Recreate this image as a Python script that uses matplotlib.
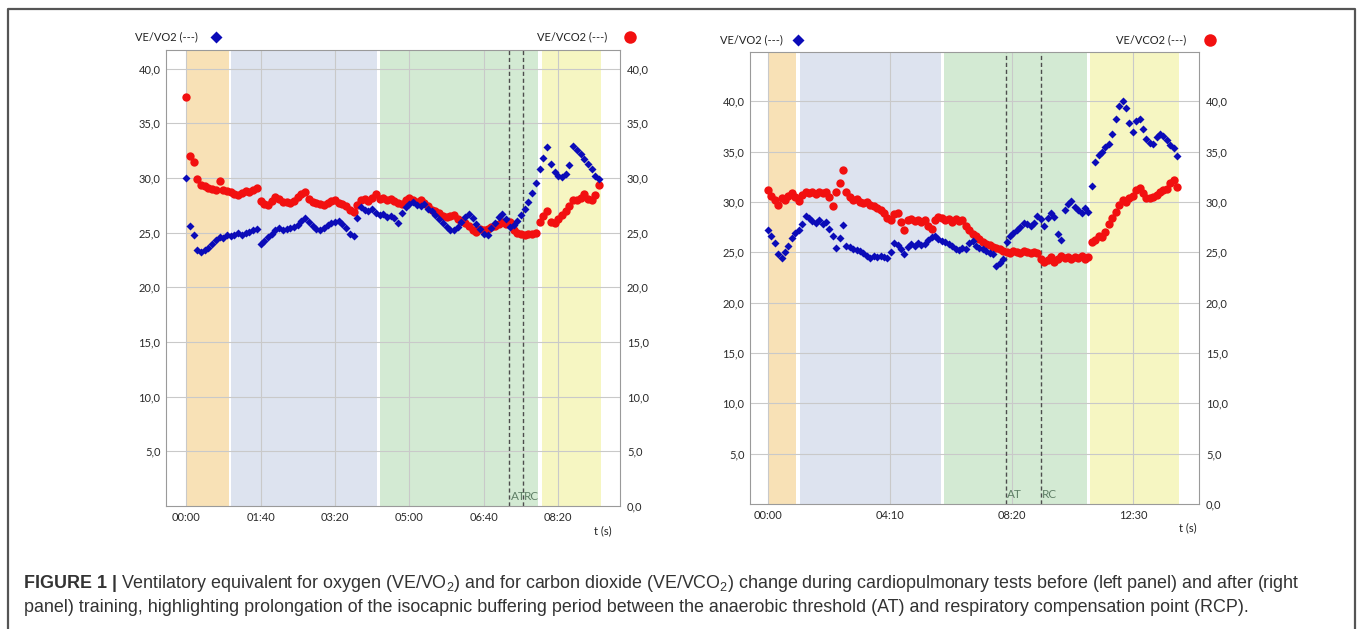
import matplotlib
matplotlib.use("Agg")
import matplotlib.pyplot as plt
import numpy as np
from matplotlib.lines import Line2D

plt.rcParams["font.family"] = ["Lato", "DejaVu Sans"]
plt.rcParams["mathtext.default"] = "regular"

# ---- left panel: test before training, one value every 5 s ----
pre_step = 5
pre_vevo2 = [
    30.0, 25.6, 24.8, 23.4, 23.2, 23.4, 23.6, 24.0, 24.3, 24.6,
    24.5, 24.8, 24.7, 24.8, 25.0, 24.8, 25.0, 25.1, 25.2, 25.3,
    24.0, 24.2, 24.6, 24.9, 25.2, 25.4, 25.2, 25.3, 25.4, 25.5,
    25.7, 26.1, 26.3, 26.0, 25.6, 25.3, 25.2, 25.4, 25.7, 25.9,
    26.0, 26.1, 25.8, 25.4, 24.9, 24.7, 26.3, 27.3, 27.1, 27.0,
    27.2, 26.8, 26.6, 26.7, 26.4, 26.5, 26.3, 25.9, 26.8, 27.3,
    27.6, 27.8, 27.5, 27.4, 27.6, 27.2, 27.0, 26.6, 26.2, 25.9,
    25.5, 25.2, 25.2, 25.5, 26.0, 26.4, 26.7, 26.3, 25.8, 25.3,
    24.9, 24.8, 25.4, 25.9, 26.4, 26.7, 26.2, 25.5, 25.7, 26.1,
    26.6, 27.2, 27.8, 28.6, 29.5, 30.8, 31.8, 32.8, 31.3, 30.5,
    30.2, 30.1, 30.4, 31.2, 32.9, 32.6, 32.2, 31.7, 31.3, 30.8,
    30.2, 29.9,
]
pre_vevco2 = [
    37.4, 32.0, 31.5, 29.9, 29.4, 29.3, 29.1, 29.0, 28.9, 29.7,
    28.9, 28.8, 28.7, 28.5, 28.4, 28.6, 28.8, 28.7, 28.9, 29.1,
    27.9, 27.6, 27.5, 27.9, 28.3, 28.1, 27.8, 27.8, 27.7, 27.9,
    28.3, 28.5, 28.7, 28.1, 27.8, 27.7, 27.6, 27.5, 27.7, 27.9,
    28.0, 27.7, 27.6, 27.4, 27.1, 26.9, 27.5, 28.0, 28.1, 27.9,
    28.2, 28.5, 28.1, 28.2, 28.0, 28.1, 27.9, 27.7, 27.6, 28.0,
    28.2, 28.0, 27.8, 28.0, 27.7, 27.4, 27.1, 27.0, 26.8, 26.5,
    26.4, 26.5, 26.6, 26.2, 26.1, 25.9, 25.6, 25.2, 25.1, 25.3,
    25.2, 25.3, 25.5, 25.6, 25.8, 26.0, 25.8, 26.0, 25.2, 25.0,
    24.9, 24.8, 24.9, 24.9, 25.0, 26.0, 26.5, 27.0, 26.0, 25.9,
    26.2, 26.6, 27.0, 27.4, 28.0, 28.0, 28.2, 28.5, 28.1, 28.0,
    28.4, 29.4,
]
pre_bands = [(0, 57), (61, 256), (260, 473), (478, 558)]
pre_at, pre_rc = 434, 452
pre_ticks = [0, 100, 200, 300, 400, 500]
pre_labels = ["00:00", "01:40", "03:20", "05:00", "06:40", "08:20"]

# ---- right panel: test after training, one value every 7 s ----
post_step = 7
post_vevo2 = [
    27.2, 26.6, 25.9, 24.8, 24.4, 25.0, 25.6, 26.4, 26.9, 27.2,
    27.8, 28.6, 28.4, 28.1, 27.9, 28.2, 27.8, 28.0, 27.3, 26.6,
    25.4, 26.4, 27.7, 25.6, 25.5, 25.3, 25.2, 25.1, 24.9, 24.6,
    24.4, 24.6, 24.5, 24.6, 24.5, 24.4, 25.0, 25.9, 25.7, 25.3,
    24.8, 25.5, 25.8, 25.6, 25.9, 25.7, 25.8, 26.2, 26.5, 26.6,
    26.3, 26.1, 26.0, 25.8, 25.6, 25.3, 25.2, 25.4, 25.3, 25.9,
    26.1, 25.6, 25.4, 25.3, 25.1, 24.9, 24.8, 23.6, 23.9, 24.3,
    26.0, 26.6, 26.9, 27.2, 27.5, 27.9, 27.8, 27.6, 27.9, 28.6,
    28.3, 27.6, 28.4, 28.9, 28.5, 26.8, 26.2, 29.2, 29.8, 30.1,
    29.5, 29.2, 28.9, 29.4, 29.0, 31.6, 34.0, 34.7, 35.0, 35.5,
    35.8, 36.8, 38.2, 39.5, 40.0, 39.3, 37.8, 37.0, 38.0, 38.2,
    37.3, 36.3, 35.9, 35.8, 36.5, 36.8, 36.6, 36.2, 35.7, 35.4,
    34.6,
]
post_vevco2 = [
    31.2, 30.6, 30.2, 29.7, 30.4, 30.2, 30.6, 30.9, 30.5, 30.1,
    30.7, 31.0, 30.9, 31.0, 30.8, 31.0, 30.9, 31.0, 30.5, 29.6,
    31.0, 31.9, 33.2, 31.0, 30.5, 30.2, 30.3, 30.0, 29.9, 30.0,
    29.7, 29.6, 29.4, 29.2, 28.9, 28.4, 28.2, 28.8, 28.9, 28.0,
    27.2, 28.2, 28.3, 28.1, 28.2, 28.0, 28.2, 27.6, 27.3, 28.2,
    28.5, 28.4, 28.2, 28.3, 28.0, 28.3, 28.1, 28.2, 27.6, 27.2,
    26.8, 26.6, 26.3, 26.0, 25.8, 25.7, 25.5, 25.4, 25.3, 25.1,
    25.0, 24.9, 25.1, 25.0, 24.9, 25.1, 25.0, 24.9, 25.0, 24.9,
    24.3, 24.0, 24.2, 24.5, 24.0, 24.3, 24.6, 24.4, 24.5, 24.3,
    24.5, 24.4, 24.6, 24.3, 24.5, 26.0, 26.2, 26.6, 26.5, 27.0,
    27.8, 28.4, 29.0, 29.7, 30.2, 30.0, 30.4, 30.6, 31.2, 31.4,
    30.9, 30.4, 30.4, 30.5, 30.7, 31.0, 31.2, 31.3, 31.9, 32.2,
    31.5,
]
post_bands = [(0, 58), (65, 356), (362, 656), (662, 844)]
post_at, post_rc = 489, 561
post_ticks = [0, 250, 500, 750]
post_labels = ["00:00", "04:10", "08:20", "12:30"]

band_colors = ["#f8e1b6", "#dde3ef", "#d3ead3", "#f6f6c2"]
blue = "#0b0bb8"
red = "#f21010"
W, H = 1357, 629


def fx(px):
    return px / W


def fy(py):
    return 1 - py / H


def draw_panel(rect, step, vo2, vco2, bands, at, rc, ticks, labels, xlim, ylim):
    ax = fig.add_axes(rect)
    t = np.arange(len(vo2)) * step
    for (a, b), c in zip(bands, band_colors):
        ax.axvspan(a, b, color=c, lw=0, zorder=0.5)
    ax.plot(t, vco2, "o", ms=6.0, color=red, mec="none", zorder=3)
    ax.plot(t, vo2, "D", ms=4.5, color=blue, mec="none", zorder=3)
    for x in (at, rc):
        ax.axvline(x, color="#4d4d4d", lw=1, ls=(0, (3, 2)), zorder=2)
    ax.text(at + 2, 0.4, "AT", color="#5f7f66", fontsize=8.5, va="bottom", zorder=4)
    ax.text(rc + 2, 0.4, "RC", color="#5f7f66", fontsize=8.5, va="bottom", zorder=4)
    ax.set_xlim(*xlim)
    ax.set_ylim(*ylim)
    ax.set_xticks(ticks)
    ax.set_xticklabels(labels)
    ax.set_yticks([5, 10, 15, 20, 25, 30, 35, 40])
    ax.set_yticklabels([f"{v},0" for v in [5, 10, 15, 20, 25, 30, 35, 40]])
    ax.grid(True, color="#c9c9c9", lw=0.8)
    ax.tick_params(length=0, labelsize=8, colors="#2a2a2a", pad=4)
    for s in ax.spines.values():
        s.set_color("#9a9a9a")
    ax2 = ax.twinx()
    ax2.set_ylim(*ylim)
    ax2.set_yticks([0, 5, 10, 15, 20, 25, 30, 35, 40])
    ax2.set_yticklabels([f"{v},0" for v in [0, 5, 10, 15, 20, 25, 30, 35, 40]])
    ax2.tick_params(length=0, labelsize=8, colors="#2a2a2a", pad=5)
    for s in ax2.spines.values():
        s.set_visible(False)
    return ax


fig = plt.figure(figsize=(W / 100, H / 100), dpi=100)

draw_panel([fx(166), fy(506), fx(620) - fx(166), fy(50) - fy(506)],
           pre_step, pre_vevo2, pre_vevco2, pre_bands, pre_at, pre_rc,
           pre_ticks, pre_labels, (-27, 583), (0, 41.7))
draw_panel([fx(750), fy(504), fx(1199) - fx(750), fy(52) - fy(504)],
           post_step, post_vevo2, post_vevco2, post_bands, post_at, post_rc,
           post_ticks, post_labels, (-37, 885), (0, 44.9))

# series keys above each panel
for tx, dx, ty, rx, cx in [(135, 216, 37, 607, 630), (720, 798, 40, 1186, 1210)]:
    fig.text(fx(tx), fy(ty), "VE/VO2 (---)", fontsize=8, va="center", color="#222222")
    fig.add_artist(Line2D([fx(dx)], [fy(ty)], marker="D", ms=6.5, color=blue, mec="none"))
    fig.text(fx(rx), fy(ty), "VE/VCO2 (---)", fontsize=8, va="center", ha="right", color="#222222")
    fig.add_artist(Line2D([fx(cx)], [fy(ty)], marker="o", ms=9, color=red, mec="none"))

fig.text(fx(603), fy(531), "t (s)", fontsize=8, ha="center", va="center", color="#222222")
fig.text(fx(1188), fy(528), "t (s)", fontsize=8, ha="center", va="center", color="#222222")

# frame round the figure
fig.add_artist(Line2D([fx(8), fx(8), fx(1355), fx(1355)], [0, fy(9), fy(9), 0],
                      color="#555555", lw=1.6))

# caption
cap_font = ["Liberation Sans", "DejaVu Sans"]
b = fig.text(fx(24), fy(583), "FIGURE 1 |", fontsize=12.9, fontweight="bold",
             family=cap_font, va="center", color="#333333")
fig.canvas.draw()
bb = b.get_window_extent()
fig.text(bb.x1 / W + fx(4), fy(583),
         "Ventilatory equivalent for oxygen (VE/VO$_2$) and for carbon dioxide (VE/VCO$_2$) "
         "change during cardiopulmonary tests before (left panel) and after (right",
         fontsize=12.9, family=cap_font, va="center", color="#333333")
fig.text(fx(24), fy(607),
         "panel) training, highlighting prolongation of the isocapnic buffering period between "
         "the anaerobic threshold (AT) and respiratory compensation point (RCP).",
         fontsize=12.9, family=cap_font, va="center", color="#333333")

fig.savefig("out.png", dpi=100)
